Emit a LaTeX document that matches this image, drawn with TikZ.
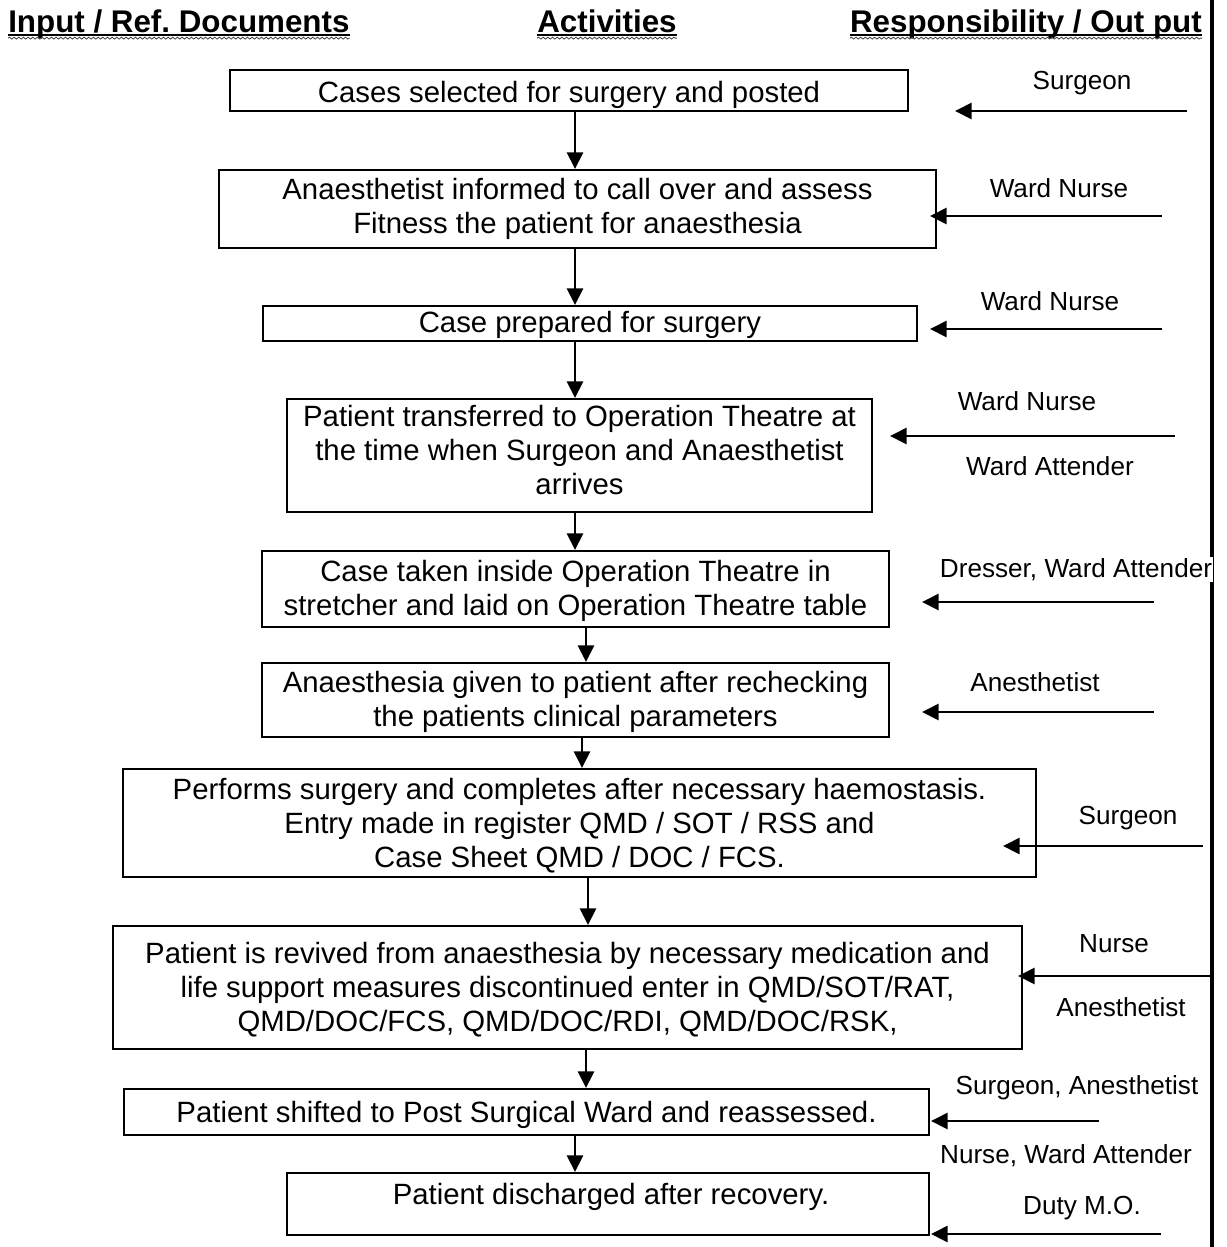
\documentclass[tikz,border=0pt]{standalone}
\usepackage{fontspec}
\setmainfont{Liberation Sans}
\usetikzlibrary{arrows.meta,decorations.pathmorphing}
\begin{document}
\frenchspacing
\begin{tikzpicture}[x=0.75pt,y=-0.75pt,
  box/.style={draw, line width=1.5pt, inner sep=0pt},
  btext/.style={align=center, inner sep=0pt, font=\fontsize{22}{25.5}\selectfont},
  lbl/.style={anchor=base, inner sep=1pt, font=\fontsize{19.6}{23}\selectfont},
  hdr/.style={inner sep=0pt, font=\fontsize{23.5}{28}\selectfont\bfseries},
  uline/.style={line width=1.6pt},
  wavy/.style={black!75, line width=0.6pt, decorate, decoration={snake, amplitude=0.7pt, segment length=3.5pt}},
  arr/.style={line width=2.1pt, -{Triangle[length=12.5pt,width=12pt]}},
  rule/.style={line width=2.5pt},
]
\useasboundingbox (0,0) rectangle (1227,1247);
\fill[white] (0,0) rectangle (1227,1247);

% headers
\node[hdr, anchor=base west] (h1) at (8,32) {Input / Ref.\ Documents};
\node[hdr, anchor=base] (h2) at (607,32) {Activities};
\node[hdr, anchor=base east] (h3) at (1202,32) {Responsibility / Out put};
\foreach \h in {h1,h2,h3}{
  \draw[uline] ([yshift=-2.2pt]\h.base west) -- ([yshift=-2.2pt]\h.base east);
  \draw[wavy] ([yshift=-4.6pt]\h.base west) -- ([yshift=-4.6pt]\h.base east);
}

% boxes
\node[box, minimum width=508.5pt, minimum height=30.75pt] (b1) at (569,90.5) {};
\node[box, minimum width=537.75pt, minimum height=58.5pt] (b2) at (577.5,209) {};
\node[box, minimum width=490.5pt, minimum height=26.25pt] (b3) at (590,323.5) {};
\node[box, minimum width=438.75pt, minimum height=84.75pt] (b4) at (579.5,455.5) {};
\node[box, minimum width=470.25pt, minimum height=57pt] (b5) at (575.5,589) {};
\node[box, minimum width=470.25pt, minimum height=55.5pt] (b6) at (575.5,700) {};
\node[box, minimum width=684.75pt, minimum height=81pt] (b7) at (579.5,823) {};
\node[box, minimum width=681.75pt, minimum height=92.25pt] (b8) at (567.5,987.5) {};
\node[box, minimum width=603.75pt, minimum height=34.5pt] (b9) at (526.5,1112) {};
\node[box, minimum width=481.5pt, minimum height=46.5pt] (b10) at (608,1204) {};

% box texts
\node[btext] (t1) at (569,94.5) {Cases selected for surgery and posted};
\node[btext] (t2) at (577.5,209) {Anaesthetist informed to call over and assess\\Fitness the patient for anaesthesia};
\node[btext] (t3) at (590,324.5) {Case prepared for surgery};
\node[btext] (t4) at (579.5,450.5) {Patient transferred to Operation Theatre at\\the time when Surgeon and Anaesthetist\\arrives};
\node[btext] (t5) at (575.5,590.5) {Case taken inside Operation Theatre in\\stretcher and laid on Operation Theatre table};
\node[btext] (t6) at (575.5,702) {Anaesthesia given to patient after rechecking\\the patients clinical parameters};
\node[btext] (t7) at (579.5,825.5) {Performs surgery and completes after necessary haemostasis.\\Entry made in register QMD / SOT / RSS and\\Case Sheet QMD / DOC / FCS.};
\node[btext] (t8) at (567.5,990) {Patient is revived from anaesthesia by necessary medication and\\life support measures discontinued enter in QMD/SOT/RAT,\\QMD/DOC/FCS, QMD/DOC/RDI, QMD/DOC/RSK,};
\node[btext] (t9) at (526.5,1115) {Patient shifted to Post Surgical Ward and reassessed.};
\node[btext] (t10) at (611,1197) {Patient discharged after recovery.};

% down arrows
\coordinate (xa) at (575,0);
\coordinate (xb) at (586,0);
\coordinate (xc) at (582,0);
\coordinate (xd) at (588,0);
\draw[arr] (b1.south -| xa) -- (b2.north -| xa);
\draw[arr] (b2.south -| xa) -- (b3.north -| xa);
\draw[arr] (b3.south -| xa) -- (b4.north -| xa);
\draw[arr] (b4.south -| xa) -- (b5.north -| xa);
\draw[arr] (b5.south -| xb) -- (b6.north -| xb);
\draw[arr] (b6.south -| xc) -- (b7.north -| xc);
\draw[arr] (b7.south -| xd) -- (b8.north -| xd);
\draw[arr] (b8.south -| xb) -- (b9.north -| xb);
\draw[arr] (b9.south -| xa) -- (b10.north -| xa);

% right vertical rule
\coordinate (vt) at (1212,0);
\coordinate (vb) at (1212,1247);
\draw[rule] (vt) -- (vb);

% responsibility arrows
\coordinate (r1s) at (1187,111);  \coordinate (r1e) at (955,111);
\coordinate (r2s) at (1162,216);  \coordinate (r2e) at (930,216);
\coordinate (r3s) at (1162,329);  \coordinate (r3e) at (930,329);
\coordinate (r4s) at (1175,436);  \coordinate (r4e) at (890,436);
\coordinate (r5s) at (1154,602);  \coordinate (r5e) at (922,602);
\coordinate (r6s) at (1154,712);  \coordinate (r6e) at (922,712);
\coordinate (r7s) at (1203,846);  \coordinate (r7e) at (1003,846);
\coordinate (r8s) at (1210,976);  \coordinate (r8e) at (1018,976);
\coordinate (r9s) at (1099,1121); \coordinate (r9e) at (931,1121);
\coordinate (r10s) at (1161,1234); \coordinate (r10e) at (931,1234);
\foreach \i in {1,...,10}{ \draw[arr] (r\i s) -- (r\i e); }

% responsibility labels
\node[lbl] (l1) at (1082,89) {Surgeon};
\node[lbl] (l2) at (1059,197) {Ward Nurse};
\node[lbl] (l3) at (1050,310) {Ward Nurse};
\node[lbl] (l4a) at (1027,410) {Ward Nurse};
\node[lbl] (l4b) at (1050,475) {Ward Attender};
\node[lbl, fill=white] (l5) at (1076,577) {Dresser, Ward Attender};
\node[lbl] (l6) at (1035,691) {Anesthetist};
\node[lbl] (l7) at (1128,824) {Surgeon};
\node[lbl] (l8a) at (1114,952) {Nurse};
\node[lbl] (l8b) at (1121,1016) {Anesthetist};
\node[lbl] (l9a) at (1077,1094) {Surgeon, Anesthetist};
\node[lbl] (l9b) at (1066,1163) {Nurse, Ward Attender};
\node[lbl] (l10) at (1082,1214) {Duty M.O.};
\end{tikzpicture}
\end{document}
